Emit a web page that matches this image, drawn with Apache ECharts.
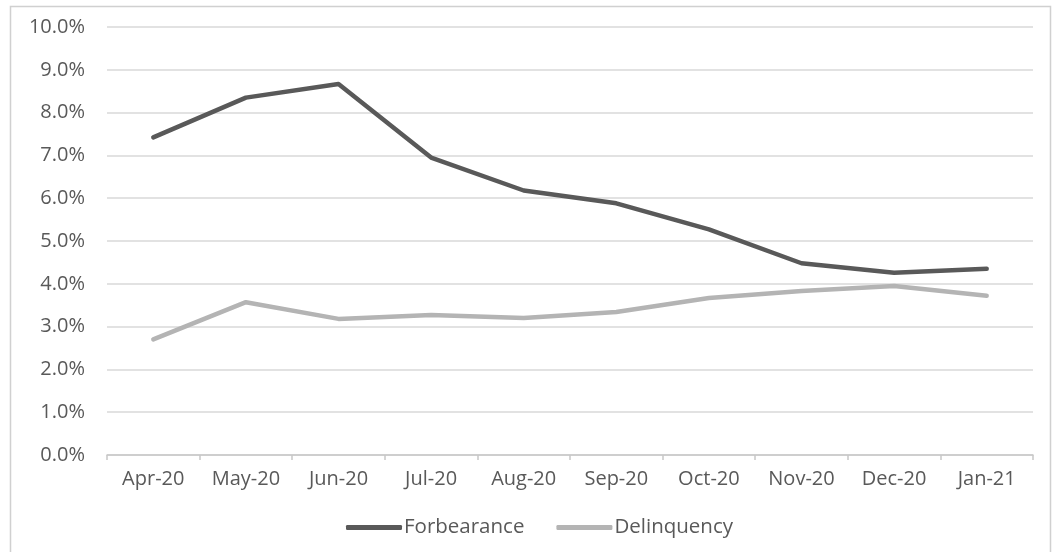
<!DOCTYPE html>
<html>
<head>
<meta charset="utf-8">
<script src="https://cdn.jsdelivr.net/npm/echarts@6/dist/echarts.min.js"></script>
<style>
html,body{margin:0;padding:0;background:#fff;}
#chart{width:1052px;height:552px;}
</style>
</head>
<body>
<div id="chart"></div>
<script>
const categories = ['Apr-20','May-20','Jun-20','Jul-20','Aug-20','Sep-20','Oct-20','Nov-20','Dec-20','Jan-21'];
const forbearance = [7.42, 8.35, 8.67, 6.95, 6.18, 5.88, 5.27, 4.48, 4.26, 4.35];
const delinquency = [2.70, 3.57, 3.18, 3.27, 3.20, 3.34, 3.67, 3.83, 3.95, 3.72];
const yTicks = [0,1,2,3,4,5,6,7,8,9,10];

const chart = echarts.init(document.getElementById('chart'), null, {renderer:'canvas'});
const font = '"Open Sans", "Liberation Sans", sans-serif';
chart.setOption({
  animation:false,
  backgroundColor:'#ffffff',
  graphic:[{
    type:'rect', left:8, top:4,
    shape:{width:1040, height:560},
    style:{fill:'none', stroke:'#d0d0d0', lineWidth:1.5},
    silent:true
  }],
  grid:{left:107, right:19, top:27, bottom:97, containLabel:false},
  legend:{
    left:341, top:512,
    itemWidth:56, itemHeight:5, itemGap:32,
    icon:'roundRect',
    textStyle:{fontFamily:font, fontSize:20.5, color:'#595959', padding:[0,0,0,-3]},
    data:['Forbearance','Delinquency']
  },
  xAxis:{
    type:'category', data:categories, boundaryGap:true,
    axisLine:{lineStyle:{color:'#c8c8c8', width:1.5}},
    axisTick:{show:true, length:5, lineStyle:{color:'#c8c8c8', width:1.5}},
    axisLabel:{fontFamily:font, fontSize:20, color:'#595959', margin:14}
  },
  yAxis:{
    type:'value', min:yTicks[0], max:yTicks[yTicks.length-1], interval:1,
    axisLine:{show:false}, axisTick:{show:false},
    splitLine:{lineStyle:{color:'#d9d9d9', width:1.5}},
    axisLabel:{fontFamily:font, fontSize:20, color:'#595959', margin:22,
      formatter:v=>v.toFixed(1)+'%'}
  },
  series:[
    {name:'Forbearance', type:'line', data:forbearance, symbol:'none',
     lineStyle:{color:'#595959', width:4.5, cap:'round', join:'round'},
     itemStyle:{color:'#595959'}},
    {name:'Delinquency', type:'line', data:delinquency, symbol:'none',
     lineStyle:{color:'#b4b4b4', width:4.5, cap:'round', join:'round'},
     itemStyle:{color:'#b4b4b4'}}
  ]
});
</script>
</body>
</html>
